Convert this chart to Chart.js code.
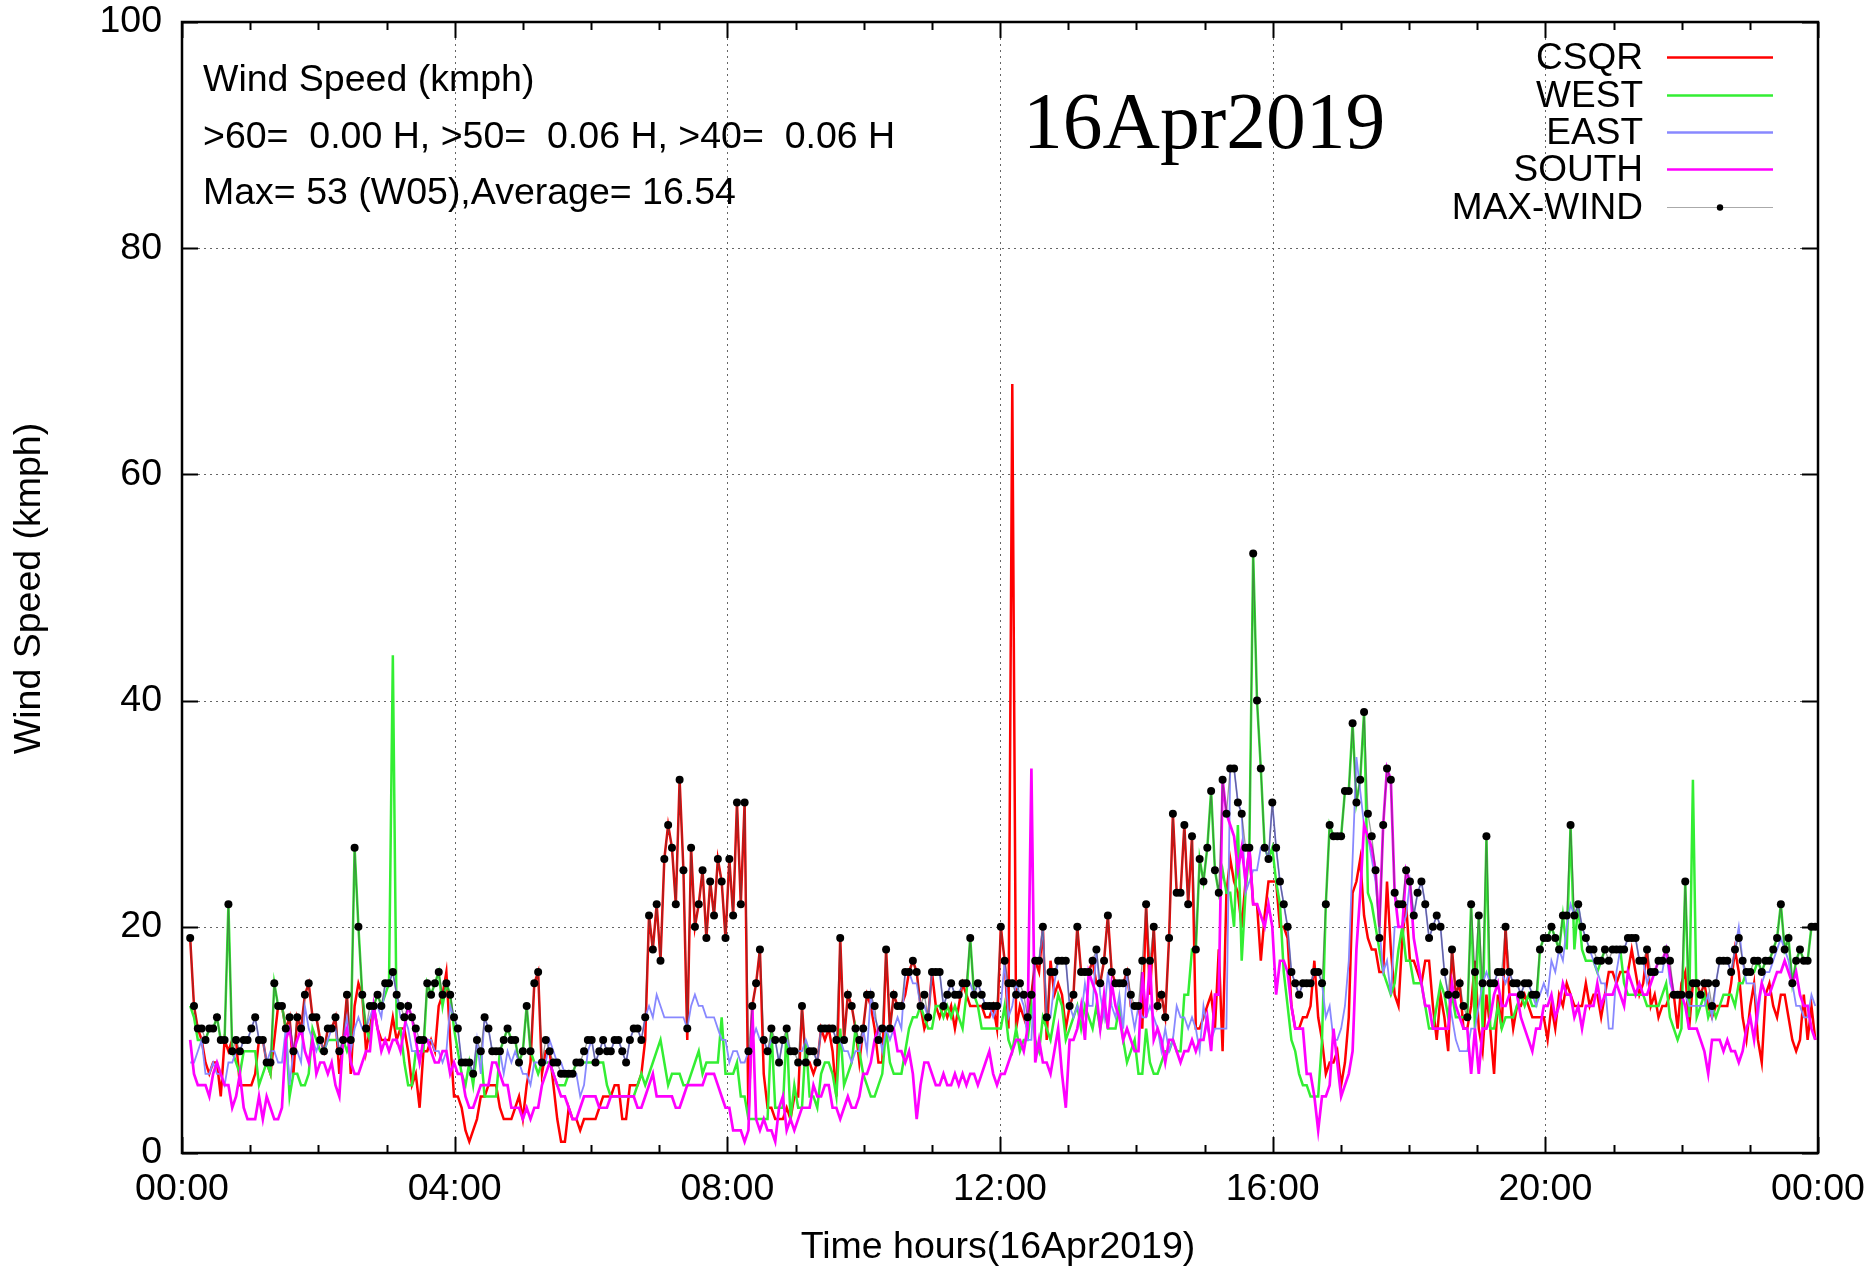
<!DOCTYPE html>
<html><head><meta charset="utf-8">
<script src="https://cdn.jsdelivr.net/npm/chart.js@4.4.1/dist/chart.umd.min.js"></script>
<style>html,body{margin:0;padding:0;background:#fff;}canvas{display:block;}</style>
</head><body>
<canvas id="c" width="1870" height="1268"></canvas>
<script>
// ---------------- data ----------------
const seriesNames = ['CSQR', 'WEST', 'EAST', 'SOUTH', 'MAX-WIND'];
const xTickHours = [0, 4, 8, 12, 16, 20, 24];
const xTickLabels = ['00:00', '04:00', '08:00', '12:00', '16:00', '20:00', '00:00'];
const yTickValues = [0, 20, 40, 60, 80, 100];
const yTickLabels = ['0', '20', '40', '60', '80', '100'];
const firstSampleHour = 0.12;   // time of first sample (h)
const lastSampleHour = 23.96;   // time of last sample (h)

const csqr = [19,13,11,10,8,7,8,8,5,10,9,10,10,6,6,6,6,7,10,10,8,7,10,13,13,11,12,7,12,11,14,15,12,12,10,9,11,11,12,7,10,14,7,13,15,14,9,11,13,11,10,10,10,
12,10,11,11,9,6,7,4,9,9,10,9,13,14,16,10,5,5,4,2,1,2,3,5,5,6,6,6,4,3,3,3,4,5,3,6,8,15,16,7,9,9,6,3,1,1,4,3,3,2,3,3,
3,3,4,5,5,5,6,6,3,3,6,6,6,7,10,21,18,22,17,26,29,27,22,33,25,10,27,20,22,25,19,24,21,26,24,19,26,21,31,22,31,3,13,15,18,7,4,4,3,3,3,4,3,
5,5,13,8,8,7,8,11,10,11,9,5,19,10,14,13,11,8,11,14,13,11,8,8,18,11,14,13,13,14,16,17,16,13,11,12,16,13,12,13,12,13,11,13,15,14,13,13,13,13,12,12,13,11,
20,17,11,68,11,13,12,11,14,17,16,20,10,17,14,15,14,11,13,14,20,16,16,16,17,15,15,17,21,16,15,15,15,16,13,13,13,11,22,14,20,13,14,12,19,30,23,23,29,22,28,11,11,12,
13,14,11,18,9,23,26,24,23,20,24,27,22,22,17,21,24,24,24,20,20,19,13,11,11,12,12,13,17,12,10,7,8,8,9,6,8,12,23,24,26,21,19,18,18,16,16,24,18,14,13,19,
22,17,17,16,15,17,17,13,10,14,12,9,18,14,15,11,11,13,17,11,9,14,11,7,14,11,20,14,11,13,13,14,13,12,12,12,12,10,13,11,14,13,15,14,13,13,13,15,13,14,14,12,14,
16,16,15,16,16,16,18,16,14,15,18,13,14,12,13,13,14,14,11,15,16,11,15,15,14,15,13,12,13,13,13,13,15,18,16,12,10,13,15,10,8,14,15,13,12,14,14,12,10,9,10,14,10,13,10];

const west = [13,12,10,10,10,11,11,12,10,10,22,9,8,7,9,9,9,9,6,7,8,7,15,13,13,11,5,7,7,6,6,7,11,10,9,9,10,10,10,10,10,9,10,27,20,14,11,10,13,14,13,14,15,
44,11,11,8,6,6,9,9,9,15,14,15,16,13,15,14,11,9,7,6,8,6,9,9,5,5,5,5,9,10,11,10,10,8,9,13,9,8,7,8,8,8,7,6,6,6,7,7,8,8,8,8,
8,8,8,8,6,5,5,5,5,5,5,5,6,7,6,7,8,9,10,8,6,7,7,7,6,6,7,8,9,7,8,8,8,8,12,7,7,7,8,5,5,3,3,3,3,3,3,11,4,4,4,11,3,
6,4,4,10,5,5,4,7,8,8,7,5,11,6,7,8,11,9,7,6,5,5,6,7,11,8,7,7,7,9,11,12,12,13,12,11,11,13,13,12,13,12,13,12,11,14,19,14,13,11,11,11,11,11,
11,13,10,9,11,9,10,10,13,10,9,12,11,10,12,14,13,10,11,12,13,11,13,12,11,13,11,13,11,11,11,13,10,8,9,10,7,7,11,8,7,7,8,9,9,10,9,9,14,14,18,18,26,24,
27,32,25,23,25,23,23,20,29,17,23,27,53,40,34,27,26,27,24,22,16,13,10,9,7,6,6,5,5,5,10,22,29,28,28,28,32,32,38,31,33,39,23,22,20,18,16,15,14,15,18,20,
17,17,15,15,15,13,11,11,13,15,14,12,14,12,12,12,12,22,11,21,11,28,11,11,13,11,12,12,12,13,14,13,14,13,13,18,19,19,20,19,18,21,18,29,18,22,18,17,17,17,16,17,18,
18,18,18,18,15,14,14,14,14,14,13,13,13,13,14,15,12,11,10,11,24,12,33,12,13,14,12,13,12,13,14,14,14,13,15,15,16,16,16,17,16,17,17,18,19,22,18,19,15,17,18,17,17,20,20];

const east = [8,8,9,10,7,7,8,7,7,6,8,8,9,9,10,10,11,12,10,10,8,9,9,8,8,11,6,9,9,8,13,11,10,9,10,9,10,11,11,9,10,12,9,11,12,11,11,12,13,13,12,15,15,
16,14,12,12,11,9,9,8,10,10,10,9,9,8,9,13,12,11,8,8,8,7,10,7,12,11,9,9,9,7,9,8,9,8,7,7,6,8,8,8,8,10,9,8,8,7,7,7,7,5,6,9,
10,8,9,10,9,9,10,10,9,8,10,11,11,10,12,13,12,14,13,12,12,12,12,12,12,11,13,14,13,13,12,12,12,11,10,10,8,9,9,8,8,9,10,11,10,10,9,10,10,8,10,10,9,
9,9,9,10,9,9,8,11,11,11,11,10,10,9,9,8,9,9,11,9,14,12,11,9,11,10,11,12,11,16,16,15,15,13,13,12,16,16,16,13,14,15,14,14,15,15,15,14,15,14,13,13,12,13,
13,17,12,13,15,14,13,10,10,17,17,20,12,12,15,17,17,17,13,12,13,12,15,13,13,18,14,12,16,13,12,14,11,16,13,11,13,12,12,13,12,11,9,11,9,10,13,12,12,11,12,11,9,13,
11,10,11,11,11,11,34,34,31,30,23,24,25,25,27,27,26,31,27,24,22,20,16,15,14,15,15,15,16,16,15,12,13,10,10,11,13,17,26,35,32,29,28,26,24,20,16,17,14,20,20,20,
21,24,21,23,24,22,19,20,21,20,16,14,12,10,9,9,9,11,11,13,15,16,15,15,16,16,15,16,15,15,14,15,15,14,13,14,15,14,17,16,18,17,20,22,21,22,20,19,18,17,16,15,15,
11,11,16,18,18,19,19,19,17,17,15,16,16,16,16,18,15,14,14,14,14,13,13,13,13,13,14,12,15,17,17,17,16,18,20,17,15,15,15,12,15,16,16,17,18,19,18,17,15,13,13,12,12,14,13];

const south = [10,7,6,6,6,5,7,8,7,6,6,4,5,7,4,3,3,3,5,3,5,4,3,3,4,10,11,9,10,11,9,8,10,7,8,8,7,8,6,5,10,11,8,7,7,8,9,9,13,11,9,10,9,
10,10,9,11,13,12,10,8,10,10,9,8,8,9,9,7,8,7,7,5,4,4,5,6,6,6,8,8,7,6,6,4,4,4,3,4,3,4,4,6,7,8,7,6,5,5,4,3,3,4,5,5,
5,5,4,4,4,5,5,5,5,5,5,5,4,4,5,6,7,5,5,5,5,5,4,4,5,6,6,6,6,6,7,7,7,6,5,4,4,2,2,2,1,2,13,3,2,3,2,2,1,4,5,2,3,
2,3,4,4,4,6,5,5,6,6,4,4,3,4,5,4,4,5,7,7,8,10,11,11,11,11,11,9,9,8,9,7,3,6,8,8,7,6,6,7,6,6,7,6,7,6,7,7,6,7,8,9,7,6,
7,7,8,9,10,10,9,11,34,8,10,8,8,7,9,11,7,4,10,10,11,13,10,16,15,14,11,14,11,15,13,12,10,11,10,9,9,16,12,17,10,11,10,8,10,10,9,8,9,9,10,9,10,10,
12,9,14,14,33,30,29,28,25,27,24,27,22,22,21,20,22,20,14,17,17,16,13,11,11,11,7,7,5,2,5,5,6,11,8,5,6,7,9,18,23,29,28,27,25,20,29,34,33,23,20,20,
25,24,19,17,15,13,13,11,11,11,11,11,15,13,12,11,11,7,11,7,11,11,12,14,15,13,13,14,14,14,12,11,10,9,11,11,13,13,14,12,13,15,14,14,12,13,11,13,13,13,15,13,14,
14,14,15,14,13,16,15,14,15,14,14,15,16,17,17,18,16,14,14,14,13,11,11,11,10,9,7,10,10,10,9,10,9,9,8,9,11,12,10,13,15,14,14,15,16,16,17,16,15,16,14,13,13,11,10];

const maxWind = [19,13,11,11,10,11,11,12,10,10,22,9,10,9,10,10,11,12,10,10,8,8,15,13,13,11,12,9,12,11,14,15,12,12,10,9,11,11,12,9,10,14,10,27,20,14,11,13,13,14,13,15,15,
16,14,13,12,13,12,11,10,10,15,14,15,16,14,15,14,12,11,8,8,8,7,10,9,12,11,9,9,9,10,11,10,10,8,9,13,9,15,16,8,10,9,8,8,7,7,7,7,8,8,9,10,
10,8,9,10,9,9,10,10,9,8,10,11,11,10,12,21,18,22,17,26,29,27,22,33,25,11,27,20,22,25,19,24,21,26,24,19,26,21,31,22,31,9,13,15,18,10,9,11,10,8,10,11,9,9,8,
13,8,9,9,8,11,11,11,11,10,19,10,14,13,11,10,11,14,14,13,10,11,18,11,14,13,13,16,16,17,16,13,14,12,16,16,16,13,14,15,14,14,15,15,19,14,15,14,13,13,13,13,
20,17,15,15,14,15,14,12,14,17,17,20,12,16,16,17,17,17,13,14,20,16,16,16,17,18,15,17,21,16,15,15,15,16,14,13,13,17,22,17,20,13,14,12,19,30,23,23,29,22,28,18,26,24,
27,32,25,23,33,30,34,34,31,30,27,27,53,40,34,27,26,31,27,24,22,20,16,15,14,15,15,15,16,16,15,22,29,28,28,28,32,32,38,31,33,39,30,28,25,19,29,34,33,23,22,22,
25,24,21,23,24,22,19,20,21,20,16,14,18,14,15,13,12,22,16,21,15,28,15,15,16,16,20,16,15,15,14,15,15,14,14,18,19,19,20,19,18,21,21,29,21,22,20,19,18,18,17,17,18,
17,18,18,18,18,19,19,19,17,17,18,16,16,17,17,18,17,14,14,14,24,14,15,15,14,15,15,13,15,17,17,17,16,18,19,17,16,16,17,17,16,17,17,18,19,22,18,19,15,17,18,17,17,20,20];

const infoLines = ['Wind Speed (kmph)', '>60=  0.00 H, >50=  0.06 H, >40=  0.06 H', 'Max= 53 (W05),Average= 16.54'];
const dateLabel = '16Apr2019';
const xTitle = 'Time hours(16Apr2019)';
const yTitle = 'Wind Speed (kmph)';

// ---------------- build ----------------
function toPoints(values) {
  const n = values.length;
  const step = (lastSampleHour - firstSampleHour) / (n - 1);
  return values.map((v, i) => ({ x: firstSampleHour + i * step, y: v }));
}

const styles = {
  'CSQR':    { color: '#ff0000', width: 2.5 },
  'WEST':    { color: '#33ee33', width: 2.5 },
  'EAST':    { color: '#8888ff', width: 1.8 },
  'SOUTH':   { color: '#ff00ff', width: 2.7 },
  'MAX-WIND':{ color: 'rgba(70,70,70,0.55)', width: 1.3 }
};
const seriesValues = [csqr, west, east, south, maxWind];

const FONT = '"Liberation Sans", Arial, sans-serif';

const frame = {
  id: 'frame',
  beforeDraw(chart) {
    const c = chart.ctx;
    c.save(); c.fillStyle = '#fff'; c.fillRect(0, 0, chart.width, chart.height); c.restore();
  },
  beforeDatasetsDraw(chart) {
    const c = chart.ctx, a = chart.chartArea, xs = chart.scales.x, ys = chart.scales.y;
    c.save();
    c.strokeStyle = '#666'; c.lineWidth = 1; c.setLineDash([2, 4]);
    xTickHours.forEach(h => {
      if (h <= 0 || h >= 24) return;
      const px = Math.round(xs.getPixelForValue(h)) + 0.5;
      c.beginPath(); c.moveTo(px, a.top + 16); c.lineTo(px, a.bottom - 16); c.stroke();
    });
    yTickValues.forEach(v => {
      if (v <= 0 || v >= 100) return;
      const py = Math.round(ys.getPixelForValue(v)) + 0.5;
      c.beginPath(); c.moveTo(a.left + 16, py); c.lineTo(a.right - 16, py); c.stroke();
    });
    c.restore();
  },
  afterDatasetsDraw(chart) {
    const c = chart.ctx, a = chart.chartArea, xs = chart.scales.x, ys = chart.scales.y;
    c.save();
    c.setLineDash([]);
    c.strokeStyle = '#000'; c.lineWidth = 2;
    // ticks
    for (let h = 0; h <= 24; h++) {
      const px = Math.round(xs.getPixelForValue(h)) + 0.5;
      const len = (h % 4 === 0) ? 16 : 8;
      c.beginPath(); c.moveTo(px, a.bottom); c.lineTo(px, a.bottom - len); c.stroke();
      c.beginPath(); c.moveTo(px, a.top); c.lineTo(px, a.top + len); c.stroke();
    }
    yTickValues.forEach(v => {
      const py = Math.round(ys.getPixelForValue(v)) + 0.5;
      c.beginPath(); c.moveTo(a.left, py); c.lineTo(a.left + 16, py); c.stroke();
      c.beginPath(); c.moveTo(a.right, py); c.lineTo(a.right - 16, py); c.stroke();
    });
    // border
    c.lineWidth = 2.5;
    c.strokeRect(a.left, a.top, a.right - a.left, a.bottom - a.top);
    // tick labels
    c.fillStyle = '#000';
    c.font = '37.5px ' + FONT;
    c.textAlign = 'center'; c.textBaseline = 'middle';
    xTickHours.forEach((h, i) => c.fillText(xTickLabels[i], xs.getPixelForValue(h), 1190));
    c.textAlign = 'right';
    yTickValues.forEach((v, i) => c.fillText(yTickLabels[i], 162, ys.getPixelForValue(v)));
    // axis titles
    c.font = '37.5px ' + FONT;
    c.textAlign = 'center';
    c.fillText(xTitle, (a.left + a.right) / 2 - 2, 1248);
    c.save();
    c.translate(30, (a.top + a.bottom) / 2 + 1); c.rotate(-Math.PI / 2);
    c.fillText(yTitle, 0, 0);
    c.restore();
    // info text
    c.font = '37.5px ' + FONT;
    c.textAlign = 'left'; c.textBaseline = 'alphabetic';
    c.fillText(infoLines[0], 203, 91);
    c.fillText(infoLines[1], 203, 148);
    c.fillText(infoLines[2], 203, 204);
    // date
    c.font = '79.5px "Liberation Serif", "Times New Roman", serif';
    c.fillText(dateLabel, 1023, 148);
    // legend
    c.font = '37px ' + FONT;
    c.textAlign = 'right'; c.textBaseline = 'middle';
    const rowY = [57, 95, 132, 169, 207];
    seriesNames.forEach((name, i) => {
      const y = rowY[i];
      c.fillStyle = '#000';
      c.fillText(name, 1643, y + 2);
      const st = styles[name];
      c.beginPath();
      c.strokeStyle = name === 'MAX-WIND' ? '#aaaaaa' : st.color;
      c.lineWidth = name === 'MAX-WIND' ? 1 : 2.5;
      c.moveTo(1667, y + 0.5); c.lineTo(1773, y + 0.5); c.stroke();
      if (name === 'MAX-WIND') {
        c.beginPath(); c.arc(1720, y + 0.5, 3.2, 0, Math.PI * 2); c.fillStyle = '#000'; c.fill();
      }
    });
    c.restore();
  }
};

const datasets = seriesNames.map((name, i) => {
  const st = styles[name];
  const isMax = name === 'MAX-WIND';
  return {
    label: name,
    data: toPoints(seriesValues[i]),
    borderColor: st.color,
    borderWidth: st.width,
    pointRadius: isMax ? 4 : 0,
    pointBackgroundColor: '#000',
    pointBorderWidth: 0,
    pointHoverRadius: 0,
    tension: 0,
    fill: false,
    order: 4 - i
  };
});

new Chart(document.getElementById('c'), {
  type: 'line',
  data: { datasets },
  options: {
    responsive: false,
    animation: false,
    events: [],
    layout: { padding: { left: 182, right: 52, top: 22, bottom: 115 } },
    plugins: { legend: { display: false }, tooltip: { enabled: false }, title: { display: false } },
    scales: {
      x: { type: 'linear', min: 0, max: 24, display: false },
      y: { type: 'linear', min: 0, max: 100, display: false }
    }
  },
  plugins: [frame]
});
</script>
</body></html>
